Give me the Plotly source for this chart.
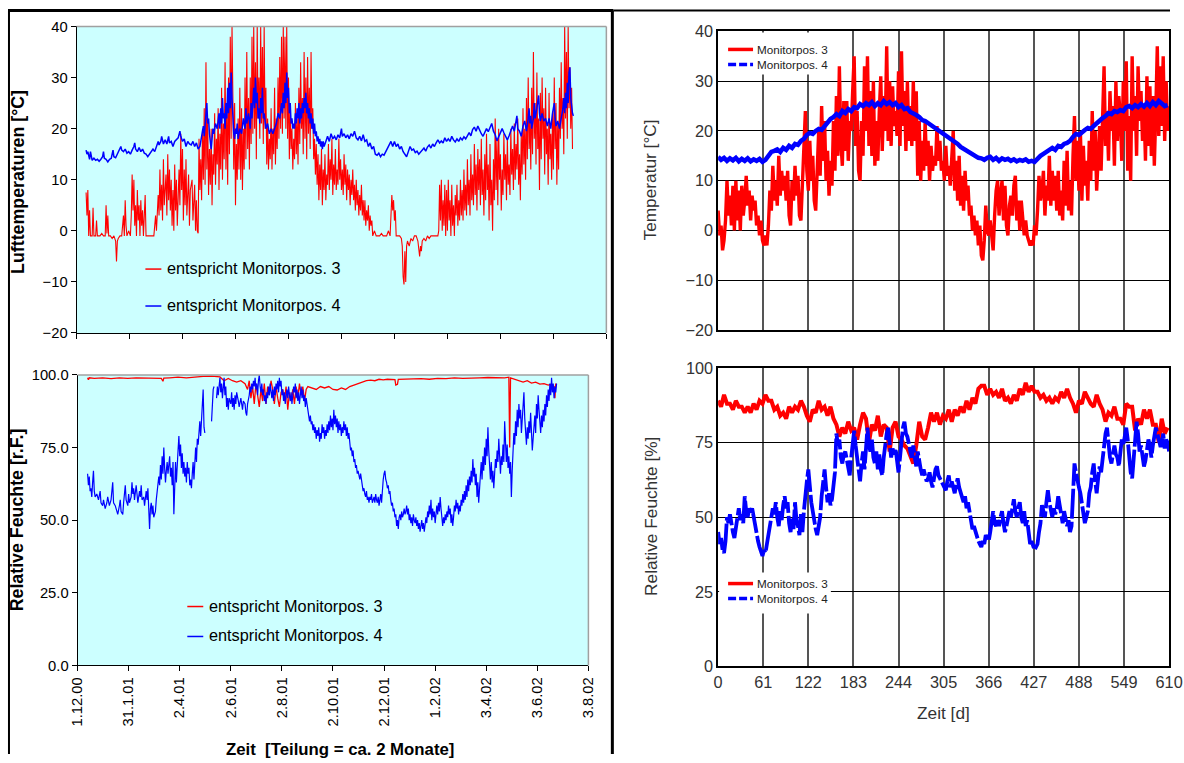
import plotly.graph_objects as go

W, H = 1184, 763

# ---------------- DATA ----------------
# Left panels: (day since 1.12.00, value) pairs
date_ticks = [0, 61, 122, 183, 244, 305, 366, 427, 488, 549, 610]
date_labels = ["1.12.00", "31.1.01", "2.4.01", "2.6.01", "2.8.01", "2.10.01",
               "2.12.01", "1.2.02", "3.4.02", "3.6.02", "3.8.02"]

temp_pos3_left = [
    (11,7.5),(12,3),(13,8),(14,-1),(15,4),(16,-1),(18,-1),(19,4.5),(20,-1),(22,-1),(23,2),(24,-1),(27,-1),(29,-0.5),
    (31,-1),(33,-1),(34,5),(35,-0.5),(36,3),(37,-1),(39,-1),(41,-1.5),(43,-1),(45,-2),(46,-6),(47,-2),(48,-1.5),(50,-1),
    (52,-1),(54,3),(55,-1),(56,6),(57,1),(58,-1),(60,0),(62,-1),(63,3),(64,11),(65,4),(66,10),(67,1),(68,5),(69,-1),
    (70,8),(71,2),(72,5),(73,-1),(74,6),(75,1),(76,4),(77,-1),(79,7),(80,-1),(82,-1),(84,-1),(86,-1),(88,-1),(89,-1),
    (91,3),(92,0),(94,7),(95,3),(96,12),(97,4),(98,9),(99,2),(100,14),(101,5),(103,11),(104,3),(105,15),(106,6),(107,12),
    (108,4),(109,10),(110,1),(111,8),(112,0),(113,13),(114,4),(115,10),(116,1),(118,12),(119,5),(120,19),(121,8),(122,16),
    (123,2),(124,12),(125,5),(126,14),(127,3),(129,11),(130,1),(131,8),(133,10),(134,2),(136,9),(137,0),(138,6),(139,0),
    (140,-0.5),(141,18),(142,8),(143,14),(144,6),(145,20),(146,10),(147,24),(148,9),(149,33),(150,12),(151,22),(152,7),
    (153,16),(154,9),(155,20),(156,5),(157,15),(158,11),(159,23),(160,9),(161,18),(162,13),(163,24),(164,8),(165,19),
    (166,12),(167,28),(168,10),(169,21),(170,14),(171,33),(172,12),(173,25),(174,9),(175,30),(176,15),(177,38),(178,18),
    (179,40),(180,20),(181,12),(182,25),(183,5),(184,17),(185,10),(186,22),(187,12),(188,28),(189,10),(190,24),(191,8),
    (192,20),(193,12),(194,30),(195,14),(196,35),(197,16),(198,26),(199,12),(200,30),(201,17),(202,38),(203,19),(204,40),
    (205,20),(206,33),(207,14),(208,40),(209,22),(210,30),(211,18),(212,40),(213,21),(214,36),(215,17),(216,40),(217,20),
    (218,28),(219,13),(220,22),(221,12),(222,18),(223,14),(224,24),(225,12),(226,20),(227,15),(228,28),(229,13),(230,22),
    (231,16),(232,30),(233,18),(234,34),(235,20),(236,38),(237,19),(238,40),(239,22),(240,38),(241,20),(242,40),(243,18),
    (244,30),(245,14),(246,24),(247,16),(248,20),(249,12),(250,18),(251,14),(252,25),(253,15),(254,22),(255,13),(256,28),
    (257,17),(258,33),(259,20),(260,26),(261,15),(262,35),(263,18),(264,30),(265,14),(266,34),(267,19),(268,28),(269,16),
    (270,35),(271,20),(272,24),(273,14),(274,18),(275,11),(276,17),(277,9),(278,15),(279,6),(280,13),(281,8),(282,16),
    (283,5),(284,12),(285,8),(286,15),(287,6),(288,11),(289,9),(290,17),(291,8),(292,14),(293,10),(294,18),(295,7),
    (296,13),(297,9),(298,16),(299,8),(300,12),(301,9),(302,18),(303,10),(304,14),(305,8),(306,12),(307,7),(308,15),
    (309,9),(310,13),(311,6),(312,12),(313,8),(314,11),(315,5),(316,10),(317,7),(318,12),(319,6),(320,9),(321,4),(322,10),
    (323,5),(324,8),(325,3),(326,7),(327,4),(328,9),(329,3),(330,6),(331,2),(332,6),(333,1),(334,4),(335,2),(336,5),
    (337,0),(338,3),(339,1),(340,2),(341,-1),(343,0),(345,-1),(347,-1),(349,-1),(351,-0.5),(353,-1),(355,-1),(357,-1),
    (359,0),(361,-1),(362,3),(363,7),(364,4),(365,6),(366,2),(367,4),(368,-1),(370,-1),(372,-1),(374,-1.5),(375,-3),
    (376,-9),(377,-10.5),(378,-4),(379,-10),(380,-3),(381,-2),(383,-3),(385,-1.5),(387,-2),(389,-1),(391,-1),(393,-2),
    (395,-5),(396,-3),(397,-4),(398,-2),(400,-1.5),(402,-2),(404,-1),(406,-1.5),(408,-1),(410,-1),(412,-1),(414,-1),
    (416,-1),(417,0),(418,9),(419,2),(420,10),(421,0),(422,6),(423,1),(424,9),(425,-1),(426,8),(427,0),(428,10),(429,2),
    (430,6),(431,-1),(432,9),(433,1),(434,5),(435,-1),(436,7),(437,3),(438,9),(439,1),(440,6),(441,2),(442,10),(443,3),
    (444,8),(445,2),(446,12),(447,4),(448,9),(449,3),(450,14),(451,5),(452,10),(453,3),(454,15),(455,6),(456,11),(457,5),
    (458,17),(459,7),(460,13),(461,4),(462,16),(463,8),(464,14),(465,5),(466,18),(467,7),(468,12),(469,3),(470,15),
    (471,6),(472,19),(473,8),(474,13),(475,2),(476,17),(477,5),(478,10),(479,0),(480,14),(481,6),(482,22),(483,8),
    (484,18),(485,5),(486,20),(487,10),(488,15),(489,4),(490,12),(491,7),(492,19),(493,10),(494,15),(495,6),(496,18),
    (497,9),(498,13),(499,7),(500,20),(501,11),(502,16),(503,8),(504,21),(505,10),(506,17),(507,12),(508,22),(509,9),
    (510,15),(511,6),(512,19),(513,11),(514,24),(515,13),(516,20),(517,10),(518,26),(519,14),(520,30),(521,16),(522,22),
    (523,12),(524,28),(525,15),(526,35),(527,18),(528,25),(529,13),(530,31),(531,16),(532,22),(533,8),(534,27),(535,14),
    (536,30),(537,18),(538,24),(539,11),(540,28),(541,15),(542,20),(543,9),(544,27),(545,14),(546,19),(547,10),(548,23),
    (549,12),(550,30),(551,16),(552,25),(553,9),(554,21),(555,12),(556,28),(557,18),(558,33),(559,20),(560,26),(561,15),
    (562,40),(563,22),(564,35),(565,18),(566,40),(567,24),(568,32),(569,20),(570,28),(571,16),
]

temp_pos4_left = [
    (11,15.8),(12,15),(13,15.5),(14,14.5),(15,14),(16,15.5),(17,14),(18,13.8),(20,14.2),(22,13.8),(24,14),(26,13.6),
    (28,14),(30,14.5),(31,15.5),(32,14.2),(34,14),(36,13.5),(38,14),(40,14.2),(42,15.8),(43,14.5),(45,14.3),(47,15),
    (49,15.5),(51,16.5),(52,15.8),(54,15.5),(56,16),(58,15.2),(60,15.5),(62,15),(64,15.8),(66,16.5),(67,17.2),(68,16),
    (70,15.5),(72,16.3),(74,15.5),(76,16),(78,15.2),(80,15),(82,14.5),(84,15),(86,15.3),(88,16),(90,15.5),(92,16.5),
    (94,17.5),(95,16.8),(97,17.5),(98,18.5),(100,17),(102,17.8),(104,17),(106,18.5),(107,17.2),(109,17.5),(111,16.5),
    (113,17.5),(115,17.8),(117,18.2),(119,19.5),(120,18.5),(122,17.5),(124,18),(126,16.5),(128,17.5),(130,17),(132,16.8),
    (134,17.5),(136,16.5),(138,17.2),(140,16),(142,16.5),(144,19),(146,20.5),(147,18.5),(148,21),(149,23),(150,25),
    (151,21),(152,22),(153,19),(154,17),(155,16),(156,18),(157,20),(158,19),(160,21),(162,20),(164,23),(165,20),(166,24),
    (167,21),(168,26),(169,22),(170,23),(171,20),(172,25),(173,22),(174,28),(175,23),(176,29),(177,24),(178,31),(179,26),
    (180,22),(181,19),(182,18),(183,20),(184,19),(185,21),(186,18),(188,20),(190,19),(192,22),(194,20),(195,24),(196,21),
    (198,23),(200,20),(201,25),(202,22),(204,28),(205,24),(206,30),(207,25),(208,27),(209,22),(210,24),(211,21),(212,26),
    (213,23),(214,28),(215,22),(216,23),(218,20),(220,21),(222,19),(224,20),(226,19),(228,20),(230,21),(232,23),(234,22),
    (236,25),(237,23),(238,27),(239,24),(240,29),(241,25),(242,31),(243,26),(244,28),(245,23),(246,25),(247,21),(248,22),
    (249,20),(250,21),(251,20),(252,23),(253,21),(254,24),(255,22),(256,25),(257,21),(258,24),(259,22),(260,25),(261,23),
    (262,26),(263,24),(264,27),(265,23),(266,25),(267,22),(268,24),(269,21),(270,23),(271,20),(272,22),(273,19),(274,21),
    (275,18.5),(276,19.5),(277,17.5),(278,18.5),(279,17),(280,18),(281,16.5),(282,17.5),(283,16),(284,17.5),(285,16.5),
    (287,17.5),(289,18.5),(291,17.5),(293,19),(295,18),(297,18.5),(299,17.8),(301,18.8),(303,18.2),(305,20),(306,18.5),
    (308,19),(310,18.2),(312,18.8),(314,18),(316,19),(318,18.5),(320,19.5),(322,18.2),(324,17.8),(326,18.5),(328,17.6),
    (330,18.8),(332,17.5),(334,17.8),(336,16.5),(338,17.2),(340,16),(342,16.5),(344,15),(346,14.8),(348,15.2),(350,14.5),
    (352,15),(354,14.8),(356,15.5),(358,16),(360,16.8),(362,17.5),(364,16.5),(366,17.5),(368,16.5),(370,17),(372,16),
    (374,16.5),(376,15.5),(378,15),(380,14.5),(382,15.5),(384,16.5),(386,15.8),(388,16),(390,15.3),(392,15.6),(394,15),
    (396,15.4),(398,15.8),(400,16.2),(402,15.6),(404,16.4),(406,16.8),(408,16.2),(410,17),(412,16.5),(414,17.2),(416,17.8),
    (418,17.2),(420,17.6),(422,17.2),(424,18.2),(426,17.5),(428,18),(430,17.5),(432,18.5),(434,17.8),(436,17.4),(438,18),
    (440,17.5),(442,18.2),(444,17.8),(446,18.4),(448,18),(450,18.6),(452,19.2),(454,18.6),(456,19.8),(458,20.3),(460,19.5),
    (462,20.5),(464,19.6),(466,19),(468,18.5),(470,19.3),(472,20),(474,19.4),(476,20.2),(478,21),(480,19.5),(482,18.8),
    (484,17.6),(486,18.5),(488,19.5),(490,20),(492,19.2),(494,18.5),(496,17.8),(498,18.6),(500,19.5),(502,20.5),(504,19.5),
    (506,21.5),(507,22.5),(508,20),(510,19.5),(512,18.5),(514,20.5),(516,21.5),(518,19.5),(520,22),(521,24),(522,21),
    (523,22.5),(524,20),(526,22),(527,25),(528,22),(530,24),(532,26.5),(533,23),(534,21.5),(536,23),(538,21.5),(540,22),
    (542,20.5),(544,22),(546,20),(548,23),(550,25),(551,22),(552,20.5),(554,21.5),(556,20),(558,22),(560,24),(561,26),
    (562,23),(563,27),(564,24),(565,29),(566,25),(567,31),(568,32),(569,26),(570,24),(571,23),(572,22.5),
]

rh_pos3_left = [
    (12,99),(13,98.3),(14,99),(20,98.8),(30,99),(40,98.7),(50,99),(60,98.8),(70,99),(80,98.9),(90,99),(100,98.8),
    (102,97.8),(103,98.9),(110,99),(120,99.2),(130,99),(140,99.3),(150,99.5),(160,99.6),(170,99.3),(175,98),(180,98.8),
    (185,98),(190,97.5),(195,98),(200,97),(203,95),(205,98),(207,92),(209,96),(211,90),(213,97),(215,93),(217,89),
    (219,95),(221,91),(223,97),(225,90),(227,96),(229,93),(231,98),(233,95),(235,90),(237,96),(239,92),(241,89),(243,94),
    (245,95),(247,91),(249,96),(251,88),(253,94),(255,91),(257,95),(259,90),(261,96),(263,92),(265,97),(267,93),(269,96),
    (271,91),(273,95),(275,96),(280,95.5),(285,95),(290,96),(295,95.5),(300,96),(305,95),(310,94.8),(315,95.5),(320,95),
    (325,96),(330,96.5),(335,97),(340,97.5),(345,98),(350,98.2),(355,98),(360,98.5),(365,98.3),(370,98.5),(375,98.4),
    (379,98.4),(380,96.5),(382,96.8),(383,98.5),(390,98.6),(400,98.5),(410,98.7),(420,98.5),(430,98.8),(440,98.7),
    (450,99),(460,98.8),(470,99),(480,99),(490,99.1),(500,99),(510,99),(515,99.2),(516,75),(517,99),(522,98.5),(527,98),
    (532,97.5),(537,98),(542,97.2),(547,97.5),(552,96.8),(557,97),(562,96.5),(566,96.8),(569,96),(570,92),(571,97),
    (572,96.5),
]

rh_pos4_left = [
    (12,66),(13,62),(14,65),(15,60),(16,61),(17,58),(18,63),(19,67),(20,60),(21,58),(23,59),(25,57),(27,60),(28,56),
    (30,55),(31,57),(33,54),(35,56),(36,58),(38,55),(40,57),(41,60),(42,63),(43,56),(45,55),(47,53),(48,52),(50,55),
    (51,57),(52,53),(54,52),(55,56),(56,60),(57,62),(58,57),(60,55),(61,59),(62,56),(64,58),(65,63),(66,59),(67,61),
    (68,57),(70,62),(71,59),(72,56),(74,60),(75,58),(76,62),(77,57),(79,58),(80,55),(82,60),(83,57),(84,61),(85,55),
    (86,47),(87,54),(88,56),(89,52),(90,55),(91,51),(93,53),(94,57),(95,60),(97,65),(98,62),(99,69),(100,64),(101,72),
    (102,66),(103,75),(104,68),(105,63),(106,67),(107,70),(108,66),(110,72),(111,65),(112,68),(113,62),(114,70),(115,52),
    (116,66),(117,70),(118,63),(119,72),(120,74),(121,79),(122,72),(123,76),(124,68),(125,73),(126,66),(127,70),(128,65),
    (129,68),(130,63),(131,70),(132,66),(133,68),(134,62),(135,64),(136,61),(137,66),(138,70),(139,64),(140,72),(141,75),
    (142,70),(143,78),(144,76),(145,80),(146,84),(147,79),(148,86),(149,88),(150,95),(151,82),(152,80),(153,None),
    (160,84),(161,90),(162,95),(163,96),(164,None),(166,92),(167,96),(168,93),(169,97),(170,99),(171,94),(172,97),
    (173,92),(174,96),(175,99),(176,93),(177,96),(178,89),(179,92),(180,88),(181,92),(183,90),(184,94),(185,89),(186,92),
    (187,88),(188,93),(189,90),(190,94),(192,91),(193,89),(195,92),(197,88),(198,91),(200,90),(201,87),(202,86),(203,90),
    (205,93),(206,96),(207,94),(208,97),(209,95),(210,98),(211,96),(212,99),(213,95),(214,97),(215,93),(216,98),(217,100),
    (218,96),(219,94),(220,97),(221,93),(222,95),(223,91),(224,93),(225,90),(226,94),(227,92),(228,96),(229,93),(230,97),
    (231,94),(232,92),(233,95),(234,91),(235,96),(236,93),(237,97),(238,95),(239,98),(240,94),(241,99),(242,96),(243,98),
    (244,93),(245,95),(246,91),(247,94),(248,90),(249,93),(250,95),(251,92),(252,96),(253,93),(254,91),(255,94),(256,90),
    (257,93),(258,96),(259,94),(260,97),(261,92),(262,95),(263,91),(264,94),(265,90),(266,93),(267,96),(268,92),(269,95),
    (270,91),(271,93),(272,89),(273,92),(274,90),(275,88),(276,86),(277,84),(278,86),(279,83),(280,84),(281,81),(282,83),
    (283,80),(284,82),(285,78),(286,81),(287,79),(288,82),(289,77),(290,80),(291,78),(292,83),(293,80),(294,82),(295,78),
    (296,81),(297,79),(298,83),(299,80),(300,84),(301,81),(302,86),(303,82),(304,85),(305,81),(306,88),(307,83),(308,86),
    (309,82),(310,85),(311,80),(312,84),(313,81),(314,83),(315,79),(316,82),(317,80),(318,84),(319,81),(320,83),(321,79),
    (322,82),(323,78),(324,80),(325,76),(326,74),(327,75),(328,72),(329,74),(330,70),(331,71),(332,68),(333,69),(334,66),
    (335,67),(336,65),(337,64),(338,66),(339,63),(340,62),(341,60),(342,61),(343,59),(344,58),(345,60),(346,57),(347,58),
    (348,56),(349,58),(350,57),(351,59),(352,56),(353,57),(354,58),(355,56),(356,59),(357,57),(358,56),(359,58),(360,55),
    (361,57),(362,59),(363,56),(364,62),(365,64),(366,66),(367,67),(368,64),(369,63),(370,61),(371,62),(372,59),(373,60),
    (374,57),(375,55),(376,56),(377,53),(378,54),(379,51),(380,52),(381,48),(382,50),(383,47),(384,51),(385,52),(386,50),
    (387,53),(388,51),(389,52),(390,54),(391,52),(392,53),(393,55),(394,52),(395,54),(396,50),(397,52),(398,49),(399,51),
    (400,48),(401,52),(402,50),(403,49),(404,51),(405,48),(406,50),(407,47),(408,49),(409,46),(410,48),(411,50),(412,47),
    (413,49),(414,46),(415,48),(416,51),(417,49),(418,53),(419,51),(420,55),(421,52),(422,57),(423,50),(424,54),(425,51),
    (426,53),(427,49),(428,52),(429,55),(430,52),(431,56),(432,53),(433,58),(434,54),(435,50),(436,48),(437,51),(438,49),
    (439,52),(440,50),(441,53),(442,51),(443,55),(444,52),(445,54),(446,49),(447,52),(448,48),(449,51),(450,55),(451,53),
    (452,57),(453,54),(454,56),(455,52),(456,55),(457,53),(458,57),(459,55),(460,59),(461,56),(462,60),(463,57),(464,62),
    (465,58),(466,64),(467,60),(468,65),(469,62),(470,67),(471,63),(472,71),(473,65),(474,68),(475,62),(476,66),(477,58),
    (478,63),(479,56),(480,62),(481,66),(482,70),(483,64),(484,72),(485,67),(486,75),(487,69),(488,78),(489,72),(490,82),
    (491,74),(492,68),(493,64),(494,70),(495,63),(496,67),(497,61),(498,66),(499,71),(500,68),(501,74),(502,70),(503,78),
    (504,72),(505,66),(506,72),(507,69),(508,76),(509,70),(510,84),(511,74),(512,70),(513,76),(514,68),(515,72),(516,66),
    (517,70),(518,58),(519,67),(520,74),(521,80),(522,76),(523,84),(524,79),(525,88),(526,82),(527,90),(528,85),(529,88),
    (530,80),(531,86),(532,92),(533,94),(534,85),(535,80),(536,76),(537,82),(538,78),(539,84),(540,80),(541,87),(542,82),
    (543,74),(544,78),(545,82),(546,86),(547,80),(548,90),(549,85),(550,93),(551,88),(552,84),(553,80),(554,86),(555,82),
    (556,88),(557,84),(558,90),(559,86),(560,93),(561,89),(562,95),(563,91),(564,97),(565,93),(566,99),(567,94),(568,97),
    (569,92),(570,96),(571,94),(572,97),
]

# Right panels: values sampled at a fixed step in days, starting at day 0
day_ticks_right = [0, 61, 122, 183, 244, 305, 366, 427, 488, 549, 610]

temp_pos3_step = 2
temp_pos3_right = [
    4,-1,1,-4,-2,2,10,3,7,1, 9,0,10,2,8,0,9,3,6,11, 5,8,2,7,4,6,1,3,-1,2, -2,-3,-1,-3,1,8,4,13,6,10,
    5,15,7,12,8,11,6,12,3,1, 10,6,13,7,11,3,2,9,16,24, 12,8,18,10,15,6,4,12,20,11, 25,14,22,10,16,7,14,9,22,12,
    27,15,33,18,13,26,16,26,14,22, 20,28,35,17,24,12,10,22,15,33, 20,35,17,28,15,30,13,22,14,24,
    31,16,27,20,37,18,30,17,29,21, 24,19,32,17,36,21,28,16,30,18, 25,17,30,18,28,11,22,10,18,12,
    22,13,18,10,17,12,15,13,21,14, 18,12,14,10,17,11,13,9,15,20, 8,14,6,15,5,11,4,12,6,9,
    3,5,0,3,-1,2,-3,1,-5,-6, -2,5,0,-1,2,-2,-4,3,8,10, 3,7,10,2,9,1,-1,5,7,3, 9,11,2,6,0,6,3,-1,2,-1,
    -2,-3,-2,-3,1,-1,4,11,6,8, 12,3,9,6,15,5,12,6,11,4, 12,3,8,2,14,5,16,4,10,3, 15,23,10,18,8,20,6,17,9,14,
    6,18,10,24,12,20,8,15,21,12, 26,33,17,24,14,28,20,25,13,30, 18,27,23,14,30,20,34,12,23,10,
    35,20,27,15,33,22,28,18,25,14, 31,17,29,15,27,13,24,37,19,33, 21,35,18,30,20,25,
]

temp_pos4_step = 4
temp_pos4_right = [
    14.8,14.2,14.6,14.0,14.5,14.1,14.6,13.9,14.4,14.0, 14.5,13.9,14.3,14.0,14.4,13.8,14.2,15.0,15.8,16.0,
    16.3,15.8,16.6,16.2,17.0,16.6,17.4,17.2,18.0,18.4, 19.2,19.6,19.4,20.0,20.4,20.2,21.0,21.6,22.4,22.8,
    23.4,23.0,24.0,23.6,24.4,24.0,24.8,24.6,25.4,25.0, 25.6,25.2,25.8,25.0,25.6,25.2,26.0,25.4,25.8,25.2,
    25.6,24.8,25.2,24.4,24.6,23.8,23.6,23.2,22.8,22.2, 22.0,21.6,21.2,20.8,20.4,20.0,19.6,19.0,18.6,18.2,
    18.0,17.4,16.8,16.4,16.0,15.6,15.4,15.0,14.6,14.5, 14.2,14.6,14.8,14.2,14.6,14.0,14.5,14.2,14.4,14.0,
    14.3,13.9,14.2,14.0,14.3,13.8,14.0,13.8,14.5,15.0, 15.4,15.8,16.0,16.6,16.2,17.0,16.8,17.4,17.6,18.0,
    18.8,19.4,19.2,19.8,20.2,20.6,20.4,21.0,21.6,22.0, 22.6,23.0,23.6,23.4,24.0,23.8,24.2,24.0,24.8,25.0,
    24.6,25.2,24.8,25.4,24.9,25.6,25.0,25.8,25.2,26.0, 25.4,25.0,25.2,
]

rh_pos3_step = 4
rh_pos3_right = [
    89,87,91,88,88,86,89,87,87,85, 87,85,88,86,89,88,91,89,89,86, 87,84,85,83,87,85,87,86,89,87,
    84,82,86,85,89,86,87,84,87,83, 81,77,80,78,82,79,80,76,81,85, 83,75,81,79,84,77,81,80,72,80,
    82,77,76,74,73,70,68,74,82,77, 76,80,85,82,85,81,84,83,86,82, 86,84,87,85,89,86,90,88,93,94,
    94,91,93,91,92,90,93,89,90,88, 91,89,93,91,95,92,94,92,92,90, 91,89,90,88,90,89,92,90,93,90,
    88,85,89,88,92,90,88,87,91,88, 86,82,85,84,87,83,83,81,88,87, 87,79,83,81,86,83,86,81,81,75,
    83,78,80,
]

rh_pos4_step = 2
rh_pos4_right = [
    45,41,43,39,38,42,50,48,51,47, 45,43,47,51,53,49,51,48,57,52, 50,53,51,53,50,48,44,42,40,38,
    37,39,38,41,44,47,50,53,51,55, 50,47,52,49,54,57,53,55,48,45, 50,46,55,49,47,44,51,45,52,58,
    62,66,60,55,52,48,46,44,47,50, 57,62,66,60,55,58,54,56,60,65, 78,74,76,70,68,71,72,69,66,64,
    70,76,79,74,70,66,62,68,72,66, 76,80,74,72,76,70,68,72,66,71, 66,64,70,75,78,80,74,70,73,71,
    73,69,65,70,76,80,82,78,77,74, 72,70,74,70,67,72,68,66,64,66, 64,62,63,65,62,60,63,66,67,64,
    63,62,61,60,59,62,64,60,62,60, 58,61,63,60,58,56,55,57,53,55, 52,48,46,47,45,44,42,41,40,42,
    41,44,43,42,45,50,52,48,47,49, 47,50,52,48,45,47,49,52,50,53, 56,52,50,53,55,50,48,52,47,49,
    44,41,42,40,39,40,41,45,48,54, 52,50,55,59,55,52,50,53,51,53, 57,54,50,48,52,50,47,49,45,47,
    60,68,65,62,60,58,55,52,48,50, 52,58,60,65,68,62,58,63,67,65, 70,74,78,80,74,70,68,72,74,71,
    70,67,72,76,74,77,80,76,70,65, 63,70,78,82,78,72,74,70,67,69, 72,76,74,70,74,77,80,78,76,74,
    74,78,73,76,75,72,
]

name3_left = "entspricht Monitorpos. 3"
name4_left = "entspricht Monitorpos. 4"
name3_right = "Monitorpos. 3"
name4_right = "Monitorpos. 4"

# ---------------- HELPERS ----------------
RED = "#FF0000"
BLUE = "#0000FF"
CYAN = "#CCFFFF"
FONT = "Arial, Liberation Sans, sans-serif"

# The photographed page comes out slightly shrunk and offset; positions below are
# given in reference-picture pixels and converted back into figure coordinates.
OX, SX = 8.3, 0.9836
OY, SY = 7.5, 0.978
FS = 1 / SX


def split(pairs):
    return [p[0] for p in pairs], [p[1] for p in pairs]


def stepped(vals, step):
    return [i * step for i in range(len(vals))], vals


def px(x):
    return ((x - OX) / SX) / W


def py(y):
    return 1 - ((y - OY) / SY) / H


def fs(s):
    return round(s * FS, 2)


fig = go.Figure()

# Top left: temperatures
x, y = split(temp_pos3_left)
fig.add_trace(go.Scatter(x=x, y=y, mode="lines", line=dict(color=RED, width=1.1),
                         name=name3_left, xaxis="x", yaxis="y"))
x, y = split(temp_pos4_left)
fig.add_trace(go.Scatter(x=x, y=y, mode="lines", line=dict(color=BLUE, width=1.5),
                         name=name4_left, xaxis="x", yaxis="y"))
# Bottom left: humidity
x, y = split(rh_pos3_left)
fig.add_trace(go.Scatter(x=x, y=y, mode="lines", line=dict(color=RED, width=1.3),
                         name=name3_left, xaxis="x2", yaxis="y2"))
x, y = split(rh_pos4_left)
fig.add_trace(go.Scatter(x=x, y=y, mode="lines", line=dict(color=BLUE, width=1.2),
                         name=name4_left, xaxis="x2", yaxis="y2"))
# Top right
x, y = stepped(temp_pos3_right, temp_pos3_step)
fig.add_trace(go.Scatter(x=x, y=y, mode="lines", line=dict(color=RED, width=3.4),
                         name=name3_right, xaxis="x3", yaxis="y3"))
x, y = stepped(temp_pos4_right, temp_pos4_step)
fig.add_trace(go.Scatter(x=x, y=y, mode="lines", line=dict(color=BLUE, width=4.5),
                         name=name4_right, xaxis="x3", yaxis="y3"))
# Bottom right
x, y = stepped(rh_pos3_right, rh_pos3_step)
fig.add_trace(go.Scatter(x=x, y=y, mode="lines", line=dict(color=RED, width=4),
                         name=name3_right, xaxis="x4", yaxis="y4"))
x, y = stepped(rh_pos4_right, rh_pos4_step)
fig.add_trace(go.Scatter(x=x, y=y, mode="lines", line=dict(color=BLUE, width=3.8, dash="30px,3px"),
                         name=name4_right, xaxis="x4", yaxis="y4"))

left_tick_font = dict(family=FONT, size=fs(14.5), color="black")
right_tick_font = dict(family=FONT, size=fs(16), color="#333333")

common_left_x = dict(range=[0, 610], tickmode="array", tickvals=date_ticks, ticks="outside",
                     ticklen=5, tickcolor="black", showline=True, linecolor="black", linewidth=1,
                     showgrid=False, zeroline=False, fixedrange=True)
common_left_y = dict(ticks="outside", ticklen=5, tickcolor="black", showline=True, linecolor="black",
                     linewidth=1, showgrid=False, zeroline=False, tickfont=left_tick_font, fixedrange=True)
common_right_x = dict(range=[0, 610], tickmode="array", tickvals=day_ticks_right, ticks="",
                      showline=True, mirror=True, linecolor="black", linewidth=1.5,
                      showgrid=True, gridcolor="#555555", gridwidth=1.5, zeroline=False,
                      tickfont=right_tick_font, ticklabeloverflow="allow", fixedrange=True)
common_right_y = dict(ticks="", showline=True, mirror=True, linecolor="black", linewidth=1.5,
                      showgrid=True, gridcolor="black", gridwidth=1, zeroline=False,
                      tickfont=right_tick_font, fixedrange=True)

right_dom = [px(720), min(1.0, px(1172))]

fig.update_layout(
    width=W, height=H, margin=dict(l=0, r=0, t=0, b=0),
    paper_bgcolor="white", plot_bgcolor="rgba(0,0,0,0)", showlegend=False,
    xaxis=dict(domain=[px(77), px(608)], anchor="y", showticklabels=False, **common_left_x),
    yaxis=dict(domain=[py(332), py(25)], anchor="x", range=[-20, 40], dtick=10, **common_left_y),
    xaxis2=dict(domain=[px(78), px(590)], anchor="y2", ticktext=date_labels, tickangle=-90,
                tickfont=left_tick_font, **common_left_x),
    yaxis2=dict(domain=[py(665), py(374)], anchor="x2", range=[0, 100], dtick=25, tickformat=".1f",
                **common_left_y),
    xaxis3=dict(domain=right_dom, anchor="y3", showticklabels=False, **common_right_x),
    yaxis3=dict(domain=[py(329), py(30)], anchor="x3", range=[-20, 40], dtick=10, **common_right_y),
    xaxis4=dict(domain=right_dom, anchor="y4", **common_right_x),
    yaxis4=dict(domain=[py(666), py(367)], anchor="x4", range=[0, 100], dtick=25, **common_right_y),
)

shapes = []
# cyan plot backgrounds + grey top/right frame for left panels
for xr, yr in (("x", "y"), ("x2", "y2")):
    shapes.append(dict(type="rect", xref=f"{xr} domain", yref=f"{yr} domain", x0=0, x1=1, y0=0, y1=1,
                       fillcolor=CYAN, line=dict(width=0), layer="below"))
    shapes.append(dict(type="line", xref=f"{xr} domain", yref=f"{yr} domain", x0=0, x1=1, y0=1, y1=1,
                       line=dict(color="#A0A0A0", width=1.5), layer="above"))
    shapes.append(dict(type="line", xref=f"{xr} domain", yref=f"{yr} domain", x0=1, x1=1, y0=0, y1=1,
                       line=dict(color="#A0A0A0", width=1.5), layer="above"))

# outer frame lines (kept just inside the page)
top_y = 1 - 1.5 / H
shapes.append(dict(type="line", xref="paper", yref="paper", x0=0, x1=px(615), y0=top_y, y1=top_y,
                   line=dict(color="black", width=3)))
shapes.append(dict(type="line", xref="paper", yref="paper", x0=px(615), x1=1, y0=top_y, y1=top_y,
                   line=dict(color="black", width=2)))
shapes.append(dict(type="line", xref="paper", yref="paper", x0=1 / W, x1=1 / W, y0=0, y1=top_y,
                   line=dict(color="black", width=2)))
shapes.append(dict(type="line", xref="paper", yref="paper", x0=px(614), x1=px(614), y0=0, y1=top_y,
                   line=dict(color="black", width=3)))


def legend_line(x0, x1, yv, color, width, dash="solid"):
    shapes.append(dict(type="line", xref="paper", yref="paper", x0=px(x0), x1=px(x1),
                       y0=py(yv), y1=py(yv), line=dict(color=color, width=width, dash=dash),
                       layer="above"))


# left legends
legend_line(146, 162, 268, RED, 1.5)
legend_line(146, 162, 305, BLUE, 1.5)
legend_line(188, 204, 606, RED, 1.5)
legend_line(188, 204, 636, BLUE, 1.5)
# right legend boxes
shapes.append(dict(type="rect", xref="paper", yref="paper", x0=px(721), x1=px(830), y0=py(73), y1=py(31),
                   fillcolor="white", line=dict(width=0), layer="above"))
shapes.append(dict(type="rect", xref="paper", yref="paper", x0=px(721), x1=px(833), y0=py(613), y1=py(572),
                   fillcolor="white", line=dict(width=0), layer="above"))
legend_line(730, 755, 48, RED, 3.5)
legend_line(730, 755, 63, BLUE, 3.5, "8px,3px")
legend_line(730, 755, 583, RED, 3.5)
legend_line(730, 755, 598, BLUE, 3.5, "8px,3px")

annotations = []


def text(x, y, s, size, color="black", bold=False, angle=0, xanchor="left"):
    annotations.append(dict(xref="paper", yref="paper", x=px(x), y=py(y), text=f"<b>{s}</b>" if bold else s,
                            showarrow=False, xanchor=xanchor, yanchor="middle", textangle=angle,
                            font=dict(family=FONT, size=fs(size), color=color)))


text(166, 267, name3_left, 16)
text(166, 304, name4_left, 16)
text(208, 605, name3_left, 16)
text(208, 635, name4_left, 16)
text(757, 48, name3_right, 11.5, "#222222")
text(757, 63, name4_right, 11.5, "#222222")
text(757, 583, name3_right, 11.5, "#222222")
text(757, 598, name4_right, 11.5, "#222222")

text(19, 181, "Lufttemperaturen [°C]", 17.5, bold=True, angle=-90, xanchor="center")
text(17, 519, "Relative Feuchte [r.F.]", 17.5, bold=True, angle=-90, xanchor="center")
text(341, 749, "Zeit\u00a0 [Teilung = ca. 2 Monate]", 16.5, bold=True, xanchor="center")
text(652, 179, "Temperatur [°C]", 17, "#333333", angle=-90, xanchor="center")
text(652, 516, "Relative Feuchte [%]", 17, "#333333", angle=-90, xanchor="center")
text(946, 713, "Zeit [d]", 17, "#333333", xanchor="center")

fig.update_layout(shapes=shapes, annotations=annotations)

fig.write_html(
    "out.html",
    config={"displayModeBar": False},
    post_script="document.body.style.margin='0px';document.body.style.overflow='hidden';",
)
